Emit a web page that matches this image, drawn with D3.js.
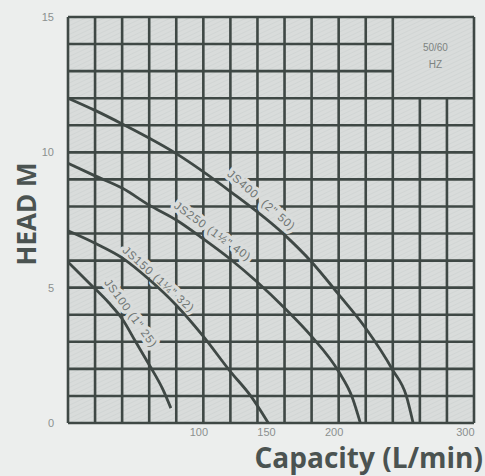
<!DOCTYPE html>
<html>
<head>
<meta charset="utf-8">
<script src="https://cdn.jsdelivr.net/npm/d3@7"></script>
<style>
  body { margin: 0; background: #eceeed; }
  svg { display: block; }
</style>
</head>
<body>
<svg id="chart" width="485" height="476"></svg>
<script>
// values
var xTicks = [100, 150, 200, 300];
var yTicks = [0, 5, 10, 15];

var js100Q = [0, 15, 30, 40, 50, 60, 70, 76];
var js100H = [5.95, 5.2, 4.45, 3.85, 3.0, 2.15, 1.25, 0.55];

var js150Q = [0, 20, 40, 60, 80, 100, 120, 135, 148];
var js150H = [7.1, 6.64, 6.1, 5.3, 4.35, 3.2, 1.9, 1.0, 0];

var js250Q = [0, 20, 40, 60, 80, 100, 120, 140, 160, 180, 200, 210, 216];
var js250H = [9.6, 9.13, 8.68, 8.05, 7.5, 6.8, 6.05, 5.2, 4.25, 3.2, 1.9, 0.95, 0];

var js400Q = [0, 20, 40, 80, 120, 160, 180, 200, 220, 240, 250, 255];
var js400H = [12, 11.55, 11.05, 9.95, 8.55, 6.95, 5.95, 4.75, 3.5, 1.95, 1.0, 0];

var pumpNames = ['JS100 (1" 25)', 'JS150 (1\u00bc" 32)', 'JS250 (1\u00bd" 40)', 'JS400\u00a0\u00a0(2" 50)'];
// where each name sits (capacity, head) and its slant in degrees
var labelQ = [46.5, 67, 107, 143];
var labelH = [4.06, 5.32, 7.09, 8.24];
var labelAngle = [54, 42, 36, 41];

var freqText = ['50/60', 'HZ'];

var svg = d3.select('#chart');

var padL = 68, padR = 474, padT = 17, padB = 423;
var x = d3.scaleLinear().domain([0, 300]).range([padL, padR]);
var y = d3.scaleLinear().domain([0, 15]).range([padB, padT]);

var gridCol = '#3f4845';
var fillCol = '#d9dcdb';

// faint hatching like the printed sheet
var defs = svg.append('defs');
var pat = defs.append('pattern')
    .attr('id', 'hatch')
    .attr('width', 4).attr('height', 4)
    .attr('patternUnits', 'userSpaceOnUse')
    .attr('patternTransform', 'rotate(-25)');
pat.append('rect').attr('width', 4).attr('height', 4).attr('fill', fillCol);
pat.append('line').attr('x1', 0).attr('y1', 0).attr('x2', 4).attr('y2', 0)
    .attr('stroke', '#cdd1d0').attr('stroke-width', 1.2);

svg.append('rect')
    .attr('x', x(0)).attr('y', y(15))
    .attr('width', x(300) - x(0)).attr('height', y(0) - y(15))
    .attr('fill', 'url(#hatch)');

// grid, leaving the top right corner open for the frequency box
var boxQ = 240, boxH = 12;
var grid = svg.append('g').attr('stroke', gridCol).attr('stroke-width', 2.6).attr('fill', 'none');

d3.range(0, 301, 20).forEach(function(q) {
    var h1 = (q > boxQ && q < 300) ? boxH : 15;
    grid.append('line')
        .attr('x1', x(q)).attr('x2', x(q))
        .attr('y1', y(0)).attr('y2', y(h1));
});
d3.range(0, 16, 1).forEach(function(h) {
    var q1 = (h > boxH && h < 15) ? boxQ : 300;
    grid.append('line')
        .attr('x1', x(0)).attr('x2', x(q1))
        .attr('y1', y(h)).attr('y2', y(h));
});

// frequency box text
svg.append('g').selectAll('text')
    .data(freqText)
    .enter()
    .append('text')
    .attr('x', (x(boxQ) + x(300)) / 2 + 2)
    .attr('y', function(d, i) { return y(13.75) + i * 17; })
    .attr('text-anchor', 'middle')
    .attr('font-family', 'Liberation Sans, Arial, sans-serif')
    .attr('font-size', 10)
    .attr('fill', '#7d8381')
    .text(function(d) { return d; });

// pump names, with a halo that cuts the grid like on the sheet
svg.append('g').selectAll('text')
    .data(pumpNames)
    .enter()
    .append('text')
    .attr('transform', function(d, i) {
        return 'translate(' + x(labelQ[i]) + ',' + y(labelH[i]) + ') rotate(' + labelAngle[i] + ')';
    })
    .attr('dy', '0.35em')
    .attr('text-anchor', 'middle')
    .attr('font-family', 'Liberation Sans, Arial, sans-serif')
    .attr('font-size', 11.5)
    .attr('letter-spacing', 0.9)
    .attr('fill', '#6f7573')
    .attr('stroke', fillCol)
    .attr('stroke-width', 7)
    .attr('stroke-linejoin', 'round')
    .attr('paint-order', 'stroke')
    .text(function(d) { return d; });

// curves
var curves = [[js100Q, js100H], [js150Q, js150H], [js250Q, js250H], [js400Q, js400H]];
var line = d3.line()
    .x(function(d) { return x(d[0]); })
    .y(function(d) { return y(d[1]); })
    .curve(d3.curveMonotoneX);

svg.append('g').selectAll('path')
    .data(curves)
    .enter()
    .append('path')
    .attr('d', function(c) { return line(d3.zip(c[0], c[1])); })
    .attr('fill', 'none')
    .attr('stroke', gridCol)
    .attr('stroke-width', 2.8);

// tick labels
var tickFont = 'Liberation Sans, Arial, sans-serif';
var yAxis = svg.append('g')
    .attr('transform', 'translate(' + (padL - 14) + ',0)')
    .call(d3.axisLeft(y).tickValues(yTicks).tickSize(0).tickPadding(0));
yAxis.select('.domain').remove();
yAxis.selectAll('text')
    .attr('font-family', tickFont).attr('font-size', 11).attr('fill', '#8b908f');

var xAxis = svg.append('g')
    .attr('transform', 'translate(0,' + (padB + 5) + ')')
    .call(d3.axisBottom(x).tickValues(xTicks).tickSize(0).tickPadding(0));
xAxis.select('.domain').remove();
xAxis.selectAll('text')
    .attr('font-family', tickFont).attr('font-size', 11).attr('fill', '#8b908f')
    .attr('dx', function(d) { return d == 300 ? 0 : -5; })
    .attr('text-anchor', function(d) { return d == 300 ? 'end' : 'middle'; });

// axis titles
svg.append('text')
    .attr('transform', 'translate(36,214) rotate(-90)')
    .attr('text-anchor', 'middle')
    .attr('font-family', 'Open Sans, sans-serif')
    .attr('font-weight', 'bold')
    .attr('font-size', 26)
    .attr('fill', '#4b5351')
    .text('HEAD M');

svg.append('text')
    .attr('x', 483)
    .attr('y', 468)
    .attr('text-anchor', 'end')
    .attr('font-family', 'Open Sans, sans-serif')
    .attr('font-weight', 'bold')
    .attr('font-size', 28)
    .attr('fill', '#4b5351')
    .text('Capacity (L/min)');
</script>
</body>
</html>
